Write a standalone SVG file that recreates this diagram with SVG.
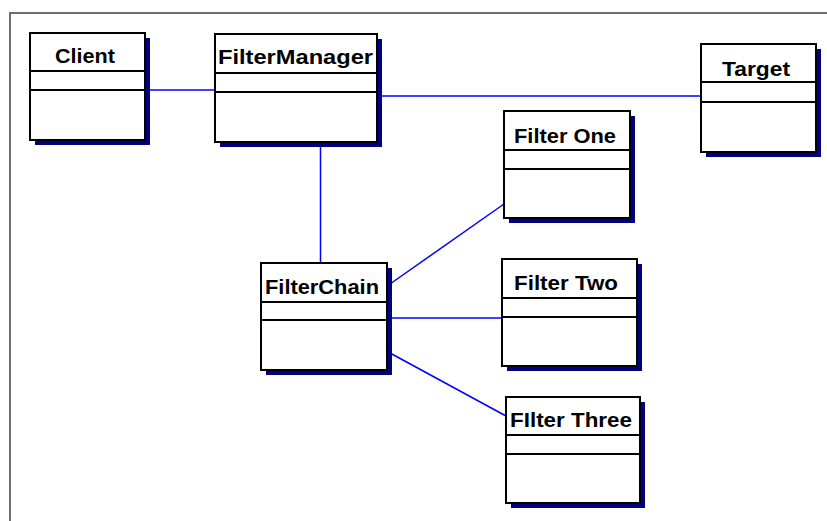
<svg xmlns="http://www.w3.org/2000/svg" width="827" height="521" viewBox="0 0 827 521">
<style>
.shadow{fill:#000080}
.box{fill:#fff;stroke:#000;stroke-width:2}
.div{stroke:#000;stroke-width:2}
.lbl{font-family:"Liberation Sans",Arial,sans-serif;font-weight:bold;font-size:21px;fill:#000}
.conn line{stroke:#0000ff;stroke-width:1.5}
</style>
<rect width="827" height="521" fill="#fff"/>
<path d="M10,521 V13 H827" fill="none" stroke="#6e6e6e" stroke-width="2"/>
<g id="connectors" class="conn">
<line x1="145" y1="90" x2="215" y2="90"/>
<line x1="377" y1="96" x2="701" y2="96"/>
<line x1="320.5" y1="142" x2="320.5" y2="263"/>
<line x1="390" y1="284" x2="504" y2="204"/>
<line x1="390" y1="318" x2="502" y2="318"/>
<line x1="390" y1="353" x2="506" y2="416"/>
</g>
<g id="client">
<rect class="shadow" x="35" y="38" width="115" height="107"/>
<rect class="box" x="30" y="33" width="115" height="107"/>
<line class="div" x1="30" y1="71" x2="145" y2="71"/>
<line class="div" x1="30" y1="90" x2="145" y2="90"/>
<text class="lbl" x="55" y="63" textLength="60" lengthAdjust="spacingAndGlyphs">Client</text>
</g>
<g id="filtermanager">
<rect class="shadow" x="220" y="39" width="162" height="108"/>
<rect class="box" x="215" y="34" width="162" height="108"/>
<line class="div" x1="215" y1="73" x2="377" y2="73"/>
<line class="div" x1="215" y1="92" x2="377" y2="92"/>
<text class="lbl" x="218" y="64" textLength="155" lengthAdjust="spacingAndGlyphs">FilterManager</text>
</g>
<g id="target">
<rect class="shadow" x="706" y="49" width="115" height="108"/>
<rect class="box" x="701" y="44" width="115" height="108"/>
<line class="div" x1="701" y1="82" x2="816" y2="82"/>
<line class="div" x1="701" y1="102" x2="816" y2="102"/>
<text class="lbl" x="722" y="76" textLength="68" lengthAdjust="spacingAndGlyphs">Target</text>
</g>
<g id="filterone">
<rect class="shadow" x="509" y="116" width="126" height="107"/>
<rect class="box" x="504" y="111" width="126" height="107"/>
<line class="div" x1="504" y1="150" x2="630" y2="150"/>
<line class="div" x1="504" y1="169" x2="630" y2="169"/>
<text class="lbl" x="514" y="143" textLength="102" lengthAdjust="spacingAndGlyphs">Filter One</text>
</g>
<g id="filterchain">
<rect class="shadow" x="266" y="268" width="126" height="107"/>
<rect class="box" x="261" y="263" width="126" height="107"/>
<line class="div" x1="261" y1="302" x2="387" y2="302"/>
<line class="div" x1="261" y1="320" x2="387" y2="320"/>
<text class="lbl" x="265" y="294" textLength="114" lengthAdjust="spacingAndGlyphs">FilterChain</text>
</g>
<g id="filtertwo">
<rect class="shadow" x="507" y="264" width="135" height="107"/>
<rect class="box" x="502" y="259" width="135" height="107"/>
<line class="div" x1="502" y1="298" x2="637" y2="298"/>
<line class="div" x1="502" y1="317" x2="637" y2="317"/>
<text class="lbl" x="514" y="290" textLength="104" lengthAdjust="spacingAndGlyphs">Filter Two</text>
</g>
<g id="filterthree">
<rect class="shadow" x="511" y="402" width="134" height="106"/>
<rect class="box" x="506" y="397" width="134" height="106"/>
<line class="div" x1="506" y1="435" x2="640" y2="435"/>
<line class="div" x1="506" y1="454" x2="640" y2="454"/>
<text class="lbl" x="510" y="427" textLength="122" lengthAdjust="spacingAndGlyphs">FIlter Three</text>
</g>
</svg>
